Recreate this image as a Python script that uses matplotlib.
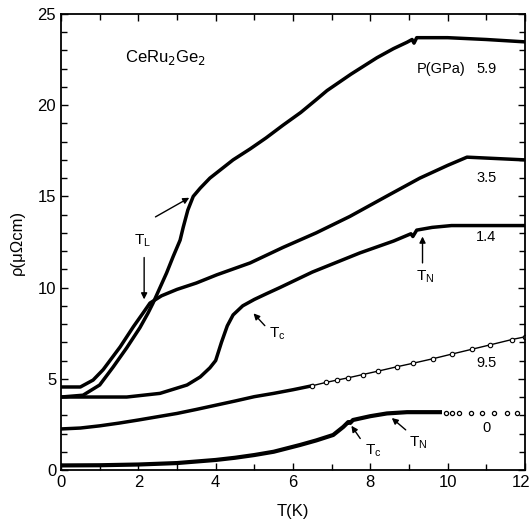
import matplotlib
matplotlib.use('Agg')
import matplotlib.pyplot as plt
from matplotlib.ticker import MultipleLocator, FuncFormatter

plt.rcParams['font.family'] = ['Liberation Sans', 'DejaVu Sans']

# 5.9 GPa
T_59 = [0, 0.57, 1.0, 1.35, 1.7, 2.04, 2.25, 2.38, 2.73, 2.9, 3.08, 3.16, 3.28, 3.42, 3.6, 3.85,
        4.03, 4.45, 4.89, 5.3, 5.74, 6.2, 6.6, 6.88, 7.5, 8.17, 8.6, 8.95, 9.08, 9.13, 9.2,
        10.0, 11.0, 12.0]
rho_59 = [4.0, 4.1, 4.66, 5.65, 6.7, 7.8, 8.6, 9.15, 10.8, 11.7, 12.6, 13.3, 14.25, 15.0, 15.45, 16.0,
          16.3, 17.0, 17.6, 18.2, 18.9, 19.6, 20.3, 20.8, 21.7, 22.6, 23.1, 23.45, 23.6, 23.4, 23.7,
          23.7, 23.6, 23.47]

# 3.5 GPa
T_35 = [0, 0.5, 0.83, 1.09, 1.53, 1.87, 2.12, 2.3, 2.6, 3.0, 3.5, 4.03, 4.89, 5.74, 6.6,
        7.47, 8.5, 9.28, 10.0, 10.5, 11.0, 12.0]
rho_35 = [4.55, 4.55, 4.93, 5.5, 6.75, 7.85, 8.6, 9.15, 9.55, 9.9, 10.25, 10.7, 11.35, 12.2, 13.0,
          13.9, 15.1, 16.0, 16.7, 17.15, 17.1, 17.0]

# 1.4 GPa
T_14 = [0, 1.0, 1.7, 2.56, 3.26, 3.6, 3.85, 4.0, 4.15, 4.3, 4.45, 4.7, 5.0, 5.3, 5.66, 6.5,
        7.73, 8.6, 9.05, 9.1, 9.2, 9.6, 10.1, 11.0, 12.0]
rho_14 = [4.0, 4.0, 4.0, 4.2, 4.66, 5.1, 5.6, 6.0, 7.0, 7.9, 8.5, 9.0, 9.35, 9.65, 10.0, 10.85,
          11.9, 12.55, 12.95, 12.8, 13.15, 13.3, 13.4, 13.4, 13.4]

# 9.5 GPa (dense part, then sparse open circles)
T_95a = [0, 0.5, 1.0, 1.5, 2.0, 2.5, 3.0, 3.5, 4.0, 4.5, 5.0, 5.5, 6.0, 6.5]
rho_95a = [2.25, 2.3, 2.42, 2.57, 2.74, 2.92, 3.1, 3.32, 3.55, 3.78, 4.02, 4.2, 4.4, 4.62]
T_95b = [6.5, 6.85, 7.14, 7.42, 7.8, 8.2, 8.69, 9.1, 9.62, 10.1, 10.63, 11.1, 11.66, 12.0]
rho_95b = [4.62, 4.8, 4.93, 5.05, 5.23, 5.42, 5.66, 5.85, 6.1, 6.35, 6.62, 6.86, 7.15, 7.3]

# 0 GPa
T_00 = [0, 1.0, 2.0, 3.0, 4.0, 4.5, 5.0, 5.5, 6.18, 6.6, 7.04, 7.3, 7.43, 7.48, 7.55, 8.0,
        8.43, 8.95, 9.8]
rho_00 = [0.25, 0.26, 0.3, 0.38, 0.55, 0.67, 0.82, 1.0, 1.37, 1.62, 1.92, 2.36, 2.63, 2.58, 2.74,
          2.95, 3.1, 3.17, 3.17]
T_00d = [9.95, 10.1, 10.3, 10.6, 10.9, 11.2, 11.53, 11.8]
rho_00d = [3.13, 3.13, 3.12, 3.12, 3.12, 3.12, 3.11, 3.11]

pressure_labels = ['5.9', '3.5', '1.4', '9.5', '0']
label_rho = [22.0, 16.0, 12.8, 5.85, 2.3]

fig = plt.figure(figsize=(5.32, 5.31), dpi=100)
ax = fig.add_axes([0.1147, 0.1149, 0.8721, 0.8588])

lw = 2.5
ax.plot(T_59, rho_59, color='black', lw=lw)
ax.plot(T_35, rho_35, color='black', lw=lw)
ax.plot(T_14, rho_14, color='black', lw=lw)
ax.plot(T_95a, rho_95a, color='black', lw=lw)
ax.plot(T_95b, rho_95b, color='black', lw=1.0, marker='o', ms=3.2, mfc='white', mew=0.8)
ax.plot(T_00, rho_00, color='black', lw=3.0)
ax.plot(T_00d, rho_00d, ls='none', marker='o', ms=3.0, mfc='white', mec='black', mew=0.9)

ax.set_xlim(0, 12)
ax.set_ylim(0, 25)
ax.xaxis.set_major_locator(MultipleLocator(2))
ax.xaxis.set_minor_locator(MultipleLocator(1))
ax.yaxis.set_major_locator(MultipleLocator(5))
ax.yaxis.set_minor_locator(MultipleLocator(1))
# the "12" label is drawn by hand a little to the left so it stays on the canvas
ax.xaxis.set_major_formatter(FuncFormatter(lambda v, p: '' if v >= 12 else f'{v:g}'))
ax.tick_params(which='both', direction='in', top=True, right=True, labelsize=12, width=1.0)
ax.tick_params(which='major', length=5)
ax.tick_params(which='minor', length=4)
for s in ax.spines.values():
    s.set_linewidth(1.3)
ax.annotate('12', xy=(12, 0), xycoords='data', xytext=(-2.5, -3.5), textcoords='offset points',
            ha='center', va='top', fontsize=12)

ax.set_xlabel('T(K)', fontsize=12, labelpad=10)
ax.set_ylabel('ρ(μΩcm)', fontsize=12, labelpad=9)

ax.text(1.65, 22.6, 'CeRu$_2$Ge$_2$', fontsize=12, va='center', ha='left')
ax.text(9.2, 22.0, 'P(GPa)', fontsize=10.5, va='center', ha='left')
for lab, y in zip(pressure_labels, label_rho):
    ax.text(11.0, y, lab, fontsize=10.5, va='center', ha='center')

arrow = dict(arrowstyle='-|>', color='black', lw=1.0, mutation_scale=9)
ax.annotate('', xy=(2.15, 9.2), xytext=(2.15, 11.8), arrowprops=arrow)
ax.annotate('', xy=(3.38, 15.0), xytext=(2.38, 13.8), arrowprops=arrow)
ax.text(2.12, 12.6, 'T$_\\mathregular{L}$', fontsize=11, ha='center', va='center')
ax.annotate('', xy=(4.93, 8.7), xytext=(5.32, 7.8), arrowprops=arrow)
ax.text(5.6, 7.45, 'T$_\\mathregular{c}$', fontsize=11, ha='center', va='center')
ax.annotate('', xy=(9.35, 12.95), xytext=(9.35, 11.2), arrowprops=arrow)
ax.text(9.42, 10.6, 'T$_\\mathregular{N}$', fontsize=11, ha='center', va='center')
ax.annotate('', xy=(7.47, 2.55), xytext=(7.78, 1.6), arrowprops=arrow)
ax.text(8.08, 1.05, 'T$_\\mathregular{c}$', fontsize=11, ha='center', va='center')
ax.annotate('', xy=(8.5, 2.95), xytext=(8.97, 2.1), arrowprops=arrow)
ax.text(9.25, 1.5, 'T$_\\mathregular{N}$', fontsize=11, ha='center', va='center')

fig.savefig('out.png', dpi=100)
